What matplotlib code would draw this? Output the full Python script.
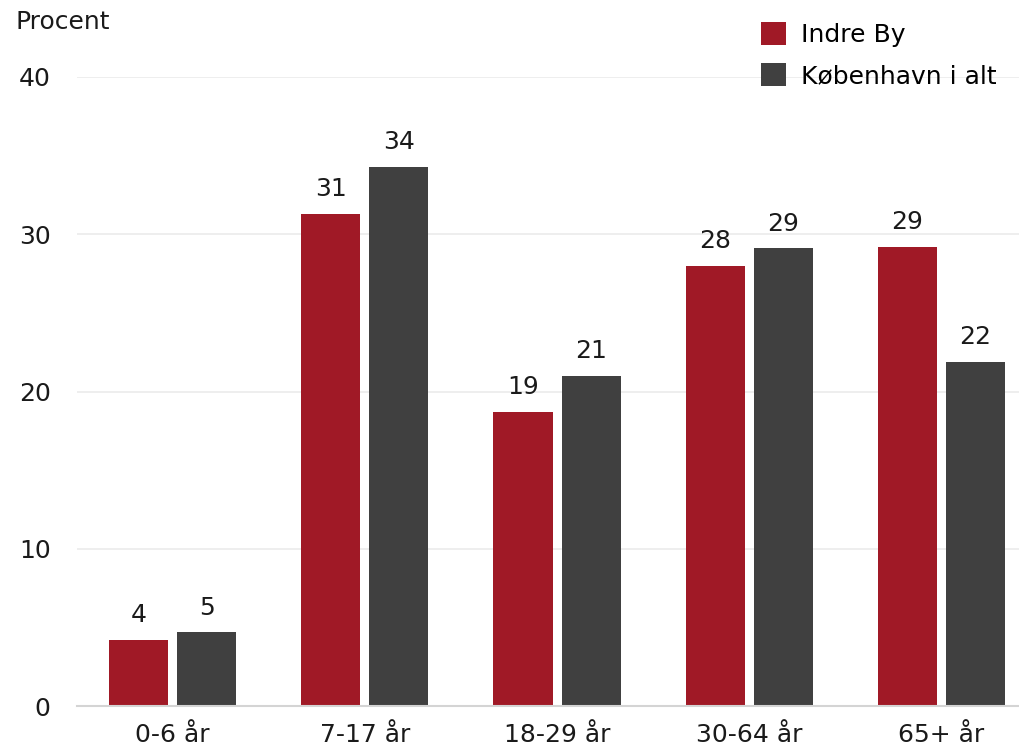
import numpy as np
import matplotlib
matplotlib.use("Agg")
import matplotlib.pyplot as plt

plt.rcParams['font.family'] = ['DejaVu Sans']

categories = ["0-6 år", "7-17 år", "18-29 år", "30-64 år", "65+ år"]
indre_by = [4.2, 31.3, 18.7, 28.0, 29.2]
kbh_i_alt = [4.7, 34.3, 21.0, 29.1, 21.9]
series_names = ["Indre By", "København i alt"]

red = "#A01926"
dark = "#404040"
fs = 18

fig = plt.figure(figsize=(10.19, 7.51), dpi=100)
ax = fig.add_axes([77 / 1019, 45 / 751, 942 / 1019, 629 / 751])

x = np.arange(len(categories))
w = 0.307
off = 0.177
b1 = ax.bar(x - off, indre_by, w, color=red, label=series_names[0])
b2 = ax.bar(x + off, kbh_i_alt, w, color=dark, label=series_names[1])

for bars, vals in ((b1, indre_by), (b2, kbh_i_alt)):
    for b, v in zip(bars, vals):
        ax.annotate(f"{v:.0f}", (b.get_x() + b.get_width() / 2, v),
                    xytext=(0, 9), textcoords="offset points",
                    ha="center", va="bottom", fontsize=fs, color="#1a1a1a")

ax.set_xlim(-0.497, 4.403)
ax.set_ylim(0, 40)
ax.set_yticks([0, 10, 20, 30, 40])
ax.set_xticks(x)
ax.set_xticklabels(categories)
ax.tick_params(axis="both", length=0, labelsize=fs, colors="#1a1a1a")
ax.tick_params(axis="y", pad=19)
ax.tick_params(axis="x", pad=12)
ax.grid(axis="y", color="#ebebeb", linewidth=1.2)
ax.set_axisbelow(True)
for s in ["top", "right", "left"]:
    ax.spines[s].set_visible(False)
ax.spines["bottom"].set_color("#d4d4d4")
ax.spines["bottom"].set_linewidth(1.5)

fig.text(15 / 1019, 1 - 22 / 751, "Procent", fontsize=fs, color="#1a1a1a",
         ha="left", va="center")

leg = ax.legend(loc="upper right", bbox_to_anchor=(1.0, 1.123), frameon=False,
                fontsize=fs, handlelength=1.0, handleheight=1.0,
                handletextpad=0.6, labelspacing=0.65)

fig.savefig("out.png", dpi=100)
